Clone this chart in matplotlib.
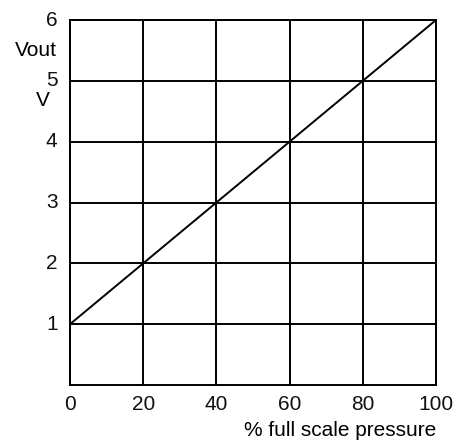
import matplotlib.pyplot as plt

plt.rcParams['font.family'] = ['Liberation Sans', 'DejaVu Sans']

pressure = [0, 100]
vout = [1, 6]
x_ticks = [0, 20, 40, 60, 80, 100]
y_ticks = [1, 2, 3, 4, 5, 6]

fig = plt.figure(figsize=(4.59, 4.46), dpi=100)
ax = fig.add_axes([70 / 459, 1 - 385 / 446, 366 / 459, 365 / 446])

ax.plot(pressure, vout, color='black', linewidth=1.4)

ax.set_xlim(0, 100)
ax.set_ylim(0, 6)
ax.set_xticks(x_ticks)
ax.set_yticks(y_ticks)
ax.tick_params(length=0, labelsize=15, colors='#111111')
ax.tick_params(axis='x', pad=7)
ax.tick_params(axis='y', pad=9)
for lbl in ax.get_yticklabels():
    lbl.set_verticalalignment('center')
ax.grid(True, color='black', linewidth=1.4)
for s in ax.spines.values():
    s.set_linewidth(1.4)

ax.set_xlabel('% full scale pressure', fontsize=15, loc='right', labelpad=5)
fig.text(57 / 459, 1 - 50 / 446, 'Vout', fontsize=15, ha='right', va='center')
fig.text(43 / 459, 1 - 100 / 446, 'V', fontsize=15, ha='center', va='center')

fig.savefig('out.png', dpi=100)
